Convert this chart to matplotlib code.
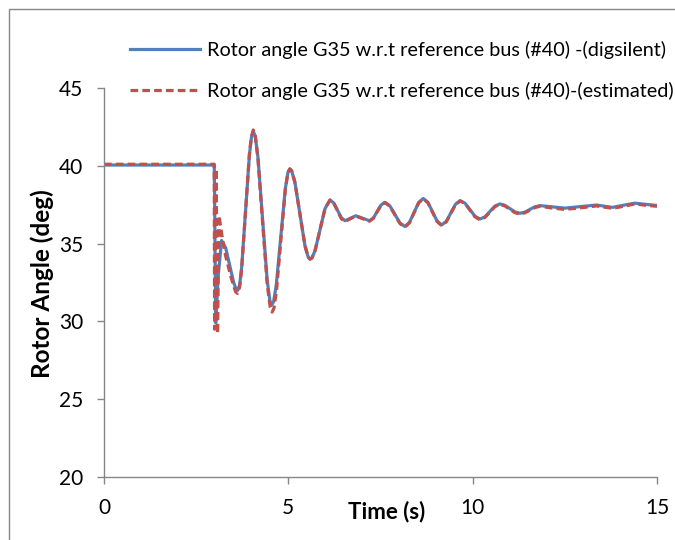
import matplotlib
matplotlib.use("Agg")
import matplotlib.pyplot as plt
from matplotlib.patches import Rectangle

# ---- data ----
t_digsilent = [0.0, 2.99, 3.0, 3.03, 3.10, 3.19, 3.30, 3.41, 3.52, 3.58, 3.63, 3.68,
               3.735, 3.84, 3.945, 4.0, 4.05, 4.1, 4.175, 4.30, 4.425, 4.5, 4.55, 4.6,
               4.6725, 4.795, 4.9175, 4.99, 5.04, 5.09, 5.1775, 5.315, 5.4525, 5.54, 5.59, 5.64,
               5.725, 5.86, 5.995, 6.13, 6.2325, 6.335, 6.4375, 6.54,
               6.685, 6.83, 7.015, 7.2, 7.305, 7.41, 7.515, 7.62,
               7.755, 7.89, 8.025, 8.16, 8.285, 8.41, 8.535, 8.66,
               8.785, 8.91, 9.035, 9.16, 9.285, 9.41, 9.535, 9.66,
               9.795, 9.93, 10.065, 10.2, 10.335, 10.47, 10.605, 10.74,
               10.875, 11.01, 11.145, 11.28, 11.4175, 11.555, 11.6925, 11.83,
               12.165, 12.5, 12.93, 13.36, 13.58, 13.8, 14.1, 14.4, 14.7, 15.0]
v_digsilent = [40.05, 40.05, 38.0, 29.9, 33.0, 35.2, 34.73, 33.6, 32.47, 32.1, 32.0, 32.35,
               33.49, 37.1, 40.71, 41.85, 42.2, 41.93, 40.57, 36.63, 32.68, 31.32, 31.05, 31.27,
               32.33, 35.43, 38.52, 39.58, 39.8, 39.68, 38.95, 36.9, 34.85, 34.12, 34.0, 34.08,
               34.55, 35.9, 37.25, 37.8, 37.61, 37.14, 36.66, 36.47,
               36.63, 36.79, 36.63, 36.47, 36.64, 37.06, 37.48, 37.65,
               37.42, 36.88, 36.33, 36.1, 36.36, 37.0, 37.64, 37.9,
               37.65, 37.05, 36.45, 36.2, 36.43, 36.98, 37.53, 37.76,
               37.59, 37.17, 36.75, 36.58, 36.72, 37.07, 37.41, 37.55,
               37.46, 37.25, 37.04, 36.95, 37.02, 37.2, 37.37, 37.44,
               37.36, 37.28, 37.38, 37.48, 37.4, 37.33, 37.47, 37.6, 37.52, 37.45]

t_estimated = [0.0, 2.99, 3.0, 3.04, 3.08, 3.12, 3.20, 3.30, 3.45, 3.57, 3.62, 3.68,
               3.735, 3.84, 3.945, 4.0, 4.05, 4.1, 4.175, 4.30, 4.43, 4.51, 4.56, 4.61,
               4.68, 4.80, 4.92, 4.99, 5.04, 5.09, 5.1775, 5.315, 5.4525, 5.54, 5.59, 5.64,
               5.725, 5.86, 5.995, 6.13, 6.2325, 6.335, 6.4375, 6.54,
               6.685, 6.83, 7.015, 7.2, 7.305, 7.41, 7.515, 7.62,
               7.755, 7.89, 8.025, 8.16, 8.285, 8.41, 8.535, 8.66,
               8.785, 8.91, 9.035, 9.16, 9.285, 9.41, 9.535, 9.66,
               9.795, 9.93, 10.065, 10.2, 10.335, 10.47, 10.605, 10.74,
               10.875, 11.01, 11.145, 11.28, 11.4175, 11.555, 11.6925, 11.83,
               12.165, 12.5, 12.93, 13.36, 13.58, 13.8, 14.1, 14.4, 14.7, 15.0]
v_estimated = [40.1, 40.1, 29.5, 39.8, 29.2, 36.8, 35.5, 34.2, 32.8, 31.9, 31.8, 32.2,
               33.4, 37.1, 40.8, 41.9, 42.3, 42.0, 40.5, 36.4, 32.3, 30.9, 30.6, 30.85,
               32.0, 35.3, 38.5, 39.58, 39.8, 39.68, 38.95, 36.9, 34.85, 34.12, 34.0, 34.08,
               34.55, 35.9, 37.25, 37.8, 37.6, 37.1, 36.6, 36.42,
               36.6, 36.77, 36.6, 36.44, 36.62, 37.05, 37.46, 37.64,
               37.4, 36.85, 36.3, 36.05, 36.33, 36.98, 37.62, 37.88,
               37.63, 37.02, 36.42, 36.15, 36.4, 36.96, 37.5, 37.74,
               37.57, 37.14, 36.72, 36.53, 36.69, 37.04, 37.38, 37.52,
               37.42, 37.2, 36.99, 36.9, 36.98, 37.15, 37.32, 37.4,
               37.28, 37.2, 37.3, 37.42, 37.34, 37.27, 37.4, 37.55, 37.46, 37.4]

label_digsilent = "Rotor angle G35 w.r.t reference bus (#40) -(digsilent)"
label_estimated = "Rotor angle G35 w.r.t reference bus (#40)-(estimated)"
x_ticks = [0, 5, 10, 15]
y_ticks = [20, 25, 30, 35, 40, 45]

plt.rcParams['font.family'] = ['Lato', 'DejaVu Sans']

fig = plt.figure(figsize=(6.75, 5.4), dpi=100)
ax = fig.add_axes([104/675, 1-477/540, (657-104)/675, (477-88)/540])

blue = '#4F81BD'
red = '#C0504D'
ax.plot(t_digsilent, v_digsilent, color=blue, lw=2.3, label=label_digsilent,
        solid_joinstyle='round')
ax.plot(t_estimated, v_estimated, color=red, lw=2.3, dashes=(2.4, 1.3),
        label=label_estimated)

ax.set_xlim(0, 15)
ax.set_ylim(20, 45)
ax.set_xticks(x_ticks)
ax.set_yticks(y_ticks)
for s in ['top', 'right']:
    ax.spines[s].set_visible(False)
for s in ['left', 'bottom']:
    ax.spines[s].set_color('#868686')
    ax.spines[s].set_linewidth(1.0)
ax.tick_params(axis='both', colors='#868686', labelcolor='black', length=5,
               width=1.0, labelsize=15)
ax.tick_params(axis='x', pad=10)
ax.tick_params(axis='y', pad=10)

ax.set_xlabel('Time (s)', fontsize=16, fontweight='bold')
ax.xaxis.set_label_coords((387-104)/553, (477-501)/389)
ax.set_ylabel('Rotor Angle (deg)', fontsize=17.5, fontweight='bold')
ax.yaxis.set_label_coords(-0.09, (477-284)/389)

leg = ax.legend(loc='upper left', bbox_to_anchor=(130/675, 1-41/540),
                bbox_transform=fig.transFigure, frameon=False, fontsize=14.3,
                handlelength=3.5, handletextpad=0.36, labelspacing=1.15,
                borderpad=0, borderaxespad=0)

fig.patches.append(Rectangle((9/675, -0.05), 1.2, 1.05 - 9/540,
                             transform=fig.transFigure, fill=False,
                             edgecolor='#868686', lw=1.0))

fig.savefig('out.png', dpi=100)
